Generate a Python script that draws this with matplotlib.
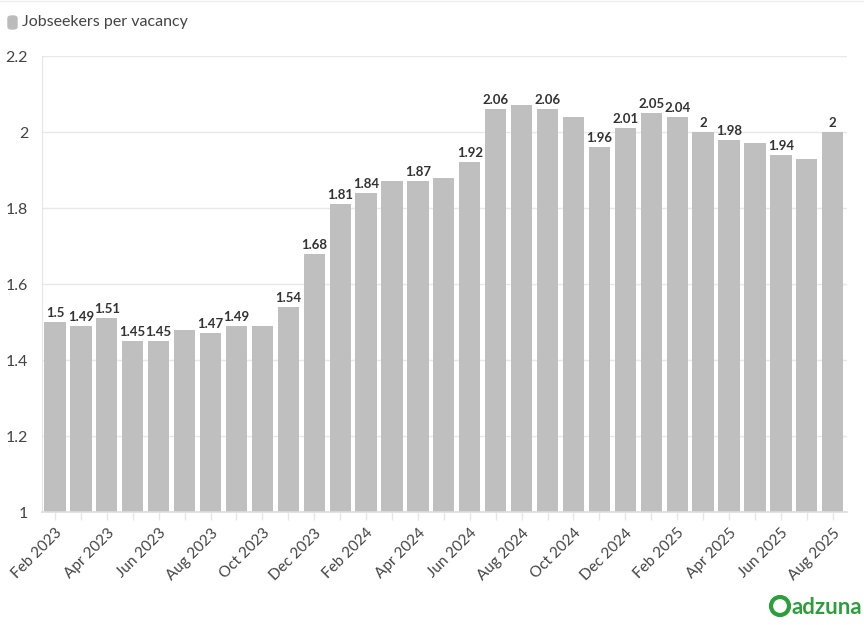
import matplotlib
matplotlib.use('Agg')
import matplotlib.pyplot as plt
from matplotlib.patches import FancyBboxPatch, Ellipse

plt.rcParams['font.family'] = ['Lato', 'DejaVu Sans']

# monthly ratio, Feb 2023 .. Aug 2025
months = ['Feb 2023', 'Mar 2023', 'Apr 2023', 'May 2023', 'Jun 2023', 'Jul 2023',
          'Aug 2023', 'Sep 2023', 'Oct 2023', 'Nov 2023', 'Dec 2023',
          'Jan 2024', 'Feb 2024', 'Mar 2024', 'Apr 2024', 'May 2024', 'Jun 2024',
          'Jul 2024', 'Aug 2024', 'Sep 2024', 'Oct 2024', 'Nov 2024', 'Dec 2024',
          'Jan 2025', 'Feb 2025', 'Mar 2025', 'Apr 2025', 'May 2025', 'Jun 2025',
          'Jul 2025', 'Aug 2025']
ratio = [1.50, 1.49, 1.51, 1.45, 1.45, 1.48, 1.47, 1.49, 1.49, 1.54, 1.68,
         1.81, 1.84, 1.87, 1.87, 1.88, 1.92, 2.06, 2.07, 2.06, 2.04, 1.96, 2.01,
         2.05, 2.04, 2.00, 1.98, 1.97, 1.94, 1.93, 2.00]
# which bars carry a value label in the original
show_label = [1, 1, 1, 1, 1, 0, 1, 1, 0, 1, 1,
              1, 1, 0, 1, 0, 1, 1, 0, 1, 0, 1, 1,
              1, 1, 1, 1, 0, 1, 0, 1]
yticks = [1, 1.2, 1.4, 1.6, 1.8, 2, 2.2]

fig = plt.figure(figsize=(8.64, 6.25), dpi=100)
ax = fig.add_axes([42/864, 113/625, 805/864, 456/625])

x = list(range(len(months)))
ax.bar(x, ratio, width=0.82, color='#bfbfbf', zorder=2)
for i, v in enumerate(ratio):
    if show_label[i]:
        ax.text(i, v + 0.008, '{:g}'.format(v), ha='center', va='bottom',
                fontsize=9.5, fontweight='bold', color='#333333', zorder=3)

ax.set_ylim(1, 2.2)
ax.set_xlim(-0.5, len(months) - 0.45)
ax.set_yticks(yticks)
ax.set_yticklabels(['{:g}'.format(t) for t in yticks])
ax.grid(axis='y', color='#e8e8e8', linewidth=1, zorder=0)
ax.tick_params(axis='y', length=0, labelsize=11.5, labelcolor='#444444', pad=10)

ax.set_xticks(x)
ax.set_xticklabels([m if i % 2 == 0 else '' for i, m in enumerate(months)],
                   rotation=45, ha='right', rotation_mode='anchor')
ax.tick_params(axis='x', length=6, color='#e6e6e6', width=1,
               labelsize=11, labelcolor='#444444', pad=4)

for s in ['top', 'right']:
    ax.spines[s].set_visible(False)
ax.spines['left'].set_color('#e6e6e6')
ax.spines['bottom'].set_color('#dddddd')
ax.spines['bottom'].set_linewidth(1.2)

# legend
fig.patches.append(FancyBboxPatch((8/864, 1 - 29/625), 9/864, 13/625,
                                  boxstyle='round,pad=0,rounding_size=0.004',
                                  transform=fig.transFigure, color='#bbbbbb'))
fig.text(22/864, 1 - 22/625, 'Jobseekers per vacancy', fontsize=11.5,
         color='#444444', va='center')
fig.add_artist(plt.Line2D([0, 1], [1 - 1/625, 1 - 1/625], color='#eeeeee',
                          linewidth=1, transform=fig.transFigure))

# brand mark
fig.add_artist(Ellipse((780/864, 1 - 606/625), 18/864, 18/625,
                       transform=fig.transFigure, fill=False,
                       edgecolor='#2e9e3c', linewidth=3))
fig.text(792/864, 1 - 607/625, 'adzuna', fontsize=16, fontweight='bold',
         color='#2e9e3c', va='center')

fig.savefig('out.png', dpi=100)
